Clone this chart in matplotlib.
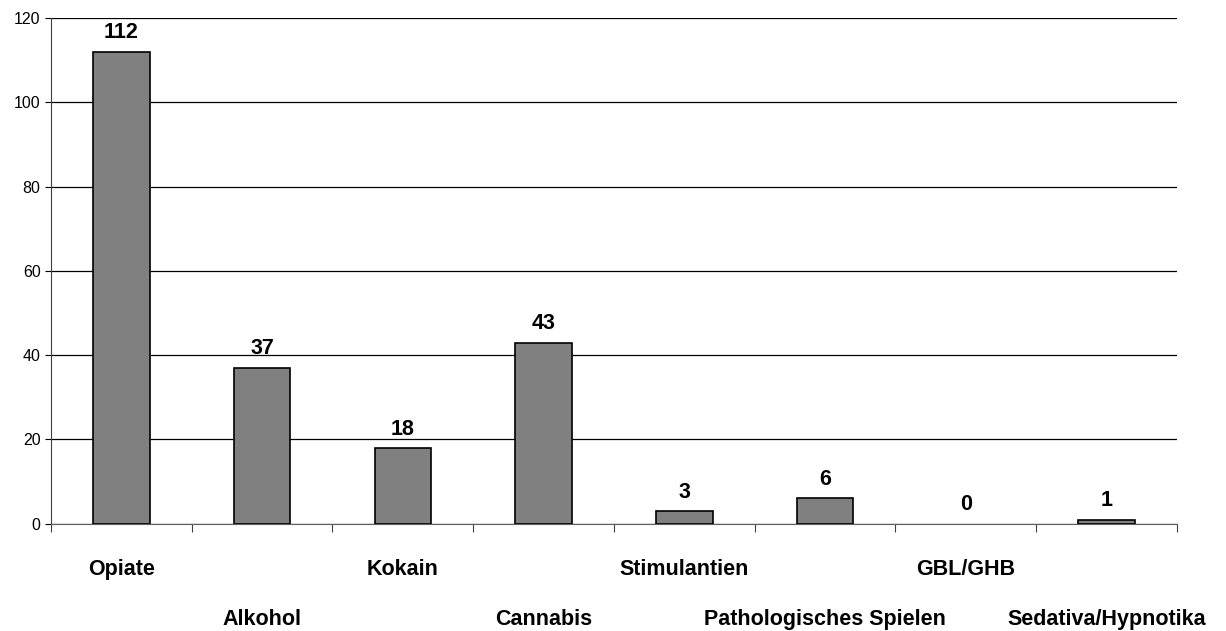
import matplotlib.pyplot as plt
import numpy as np

plt.rcParams['font.family'] = ['Liberation Sans', 'DejaVu Sans']

categories = ['Opiate', 'Alkohol', 'Kokain', 'Cannabis', 'Stimulantien',
              'Pathologisches Spielen', 'GBL/GHB', 'Sedativa/Hypnotika']
counts = [112, 37, 18, 43, 3, 6, 0, 1]
yticks = [0, 20, 40, 60, 80, 100, 120]

fig = plt.figure(figsize=(12.26, 6.31), dpi=100)
ax = fig.add_axes([0.0416, 0.170, 0.9184, 0.8015])

index = np.arange(len(categories))
rects = ax.bar(index, counts, 0.4, color='#808080', edgecolor='k',
               linewidth=1.2, zorder=3)
# an empty bar should not leave an outline on the axis
for r, c in zip(rects, counts):
    if c == 0:
        r.set_linewidth(0)
ax.bar_label(rects, labels=[str(c) for c in counts], padding=6,
             fontsize=15.5, fontweight='bold')

ax.set_xlim(-0.5, len(categories) - 0.5)
ax.set_ylim(0, 120)
ax.set_yticks(yticks)
ax.yaxis.grid(True, color='k', linewidth=0.9, zorder=0)
ax.tick_params(axis='y', labelsize=11.5, length=4, width=0.8, direction='out')

# category boundaries as ticks, names written below in two staggered rows
ax.set_xticks(np.arange(len(categories) + 1) - 0.5)
ax.set_xticklabels([])
ax.tick_params(axis='x', length=6, width=0.8, direction='out', color='#404040')
for i, name in enumerate(categories):
    off = -46 if i % 2 == 0 else -96
    ax.annotate(name, xy=(i, 0), xycoords=('data', 'axes fraction'),
                xytext=(0, off * 0.72), textcoords='offset points',
                ha='center', va='center', fontsize=15.5, fontweight='bold')

for s in ['top', 'right']:
    ax.spines[s].set_visible(False)
ax.spines['left'].set_color('#404040')
ax.spines['bottom'].set_color('#606060')

plt.savefig('out.png', dpi=100)
